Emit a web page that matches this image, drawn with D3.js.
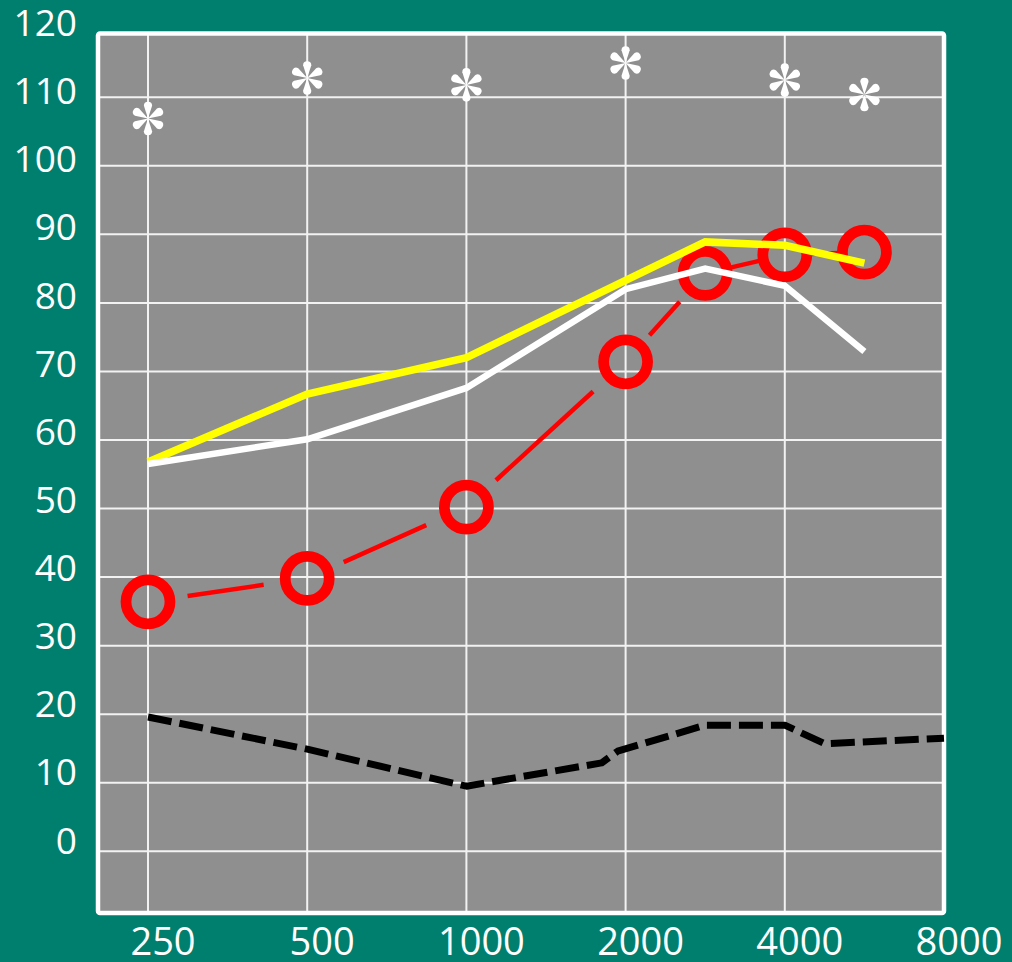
<!DOCTYPE html>
<html>
<head>
<meta charset="utf-8">
<script src="https://cdn.jsdelivr.net/npm/d3@7/dist/d3.min.js"></script>
<style>
  html, body { margin: 0; padding: 0; background: #007f6f; }
  svg { display: block; }
  text { font-family: "Open Sans", "Noto Sans", sans-serif; fill: #ffffff; }
</style>
</head>
<body>
<svg id="chart" width="1012" height="962"></svg>
<script>
// Frequency axis (Hz) and hearing level axis (dB)
const freqTicks = [250, 500, 1000, 2000, 4000, 8000];
const freqLabels = ["250", "500", "1000", "2000", "4000", "8000"];
const dbTicks = [0, 10, 20, 30, 40, 50, 60, 70, 80, 90, 100, 110, 120];

// Measured frequencies shared by the three threshold series
const freqs = [250, 500, 1000, 2000, 3000, 4000, 6000];
const yellowDb = [56.8, 66.7, 72.0, 83.3, 88.9, 88.4, 85.8];
const whiteDb  = [56.5, 60.1, 67.6, 82.0, 85.0, 82.5, 72.9];
const redDb    = [36.4, 39.8, 50.2, 71.4, 84.3, 87.0, 87.4];

// Asterisk markers near the top of the grid
const starFreqs = [250, 500, 1000, 2000, 4000, 6000];
const starDb    = [106.9, 112.8, 111.8, 115.0, 112.5, 110.4];

// Black dashed reference curve
const blackFreqs = [250, 500, 1000, 1850, 1950, 3000, 4000, 5000, 8000];
const blackDb    = [19.6, 14.9, 9.5, 12.9, 14.6, 18.4, 18.4, 15.7, 16.5];

const W = 1012, H = 962;
const plot = { left: 98, right: 944, top: 33.5, bottom: 913 };
const firstTick = 148;          // 250 Hz sits a little inside the frame
const dbMin = -9, dbMax = 119.3;

const svg = d3.select("#chart");

// Octave-spaced axis: linear between neighbouring octave ticks
const octStep = (plot.right - firstTick) / (freqTicks.length - 1);
const x = d3.scaleLinear()
  .domain(freqTicks)
  .range(freqTicks.map((d, i) => firstTick + i * octStep));
const y = d3.scaleLinear().domain([dbMin, dbMax]).range([plot.bottom, plot.top]);
// value labels sit slightly above their gridlines
const yLabel = d3.scaleLinear().domain([0, 120]).range([y(0) - 11, y(120) - 6]);

// background
svg.append("rect").attr("width", W).attr("height", H).attr("fill", "#007f6f");

// plot area fill
svg.append("rect")
  .attr("x", plot.left).attr("y", plot.top + 1.5)
  .attr("width", plot.right - plot.left).attr("height", plot.bottom - plot.top - 1.5)
  .attr("fill", "#8f8f8f");

// gridlines
const grid = svg.append("g").attr("stroke", "#f2f2f2").attr("stroke-width", 2);
grid.selectAll("line.h").data(dbTicks.filter(d => d >= dbMin && d <= dbMax))
  .join("line").attr("class", "h")
  .attr("x1", plot.left).attr("x2", plot.right)
  .attr("y1", d => y(d)).attr("y2", d => y(d));
grid.selectAll("line.v").data(freqTicks)
  .join("line").attr("class", "v")
  .attr("x1", d => x(d)).attr("x2", d => x(d))
  .attr("y1", plot.top).attr("y2", plot.bottom);

// frame
svg.append("rect")
  .attr("x", plot.left).attr("y", plot.top)
  .attr("width", plot.right - plot.left).attr("height", plot.bottom - plot.top)
  .attr("rx", 2).attr("fill", "none")
  .attr("stroke", "#ffffff").attr("stroke-width", 4.5);

// y tick labels
svg.append("g").selectAll("text").data(dbTicks).join("text")
  .attr("x", 77)
  .attr("y", d => yLabel(d))
  .attr("dy", "0.36em")
  .attr("text-anchor", "end")
  .attr("font-size", 37)
  .text(d => d);

// x tick labels
svg.append("g").selectAll("text").data(freqTicks).join("text")
  .attr("x", d => x(d) + 15)
  .attr("y", 955)
  .attr("text-anchor", "middle")
  .attr("font-size", 38)
  .text((d, i) => freqLabels[i]);

const line = d3.line().x(d => x(d[0])).y(d => y(d[1]));
const zip = (fs, vs) => fs.map((f, i) => [f, vs[i]]);

// black dashed curve
svg.append("path")
  .datum(zip(blackFreqs, blackDb))
  .attr("d", line)
  .attr("fill", "none")
  .attr("stroke", "#000000")
  .attr("stroke-width", 7)
  .attr("stroke-dasharray", "24,8")
  .attr("stroke-linejoin", "round");

// red series: one dash between each pair of circles
const redPts = zip(freqs, redDb).map(d => [x(d[0]), y(d[1])]);
const redSegs = d3.pairs(redPts).map(([a, b]) => {
  const dx = b[0] - a[0], dy = b[1] - a[1];
  const len = Math.hypot(dx, dy);
  const t0 = Math.min(40, 0.3 * len) / len;
  const t1 = 1 - Math.min(44, 0.32 * len) / len;
  return [a[0] + dx * t0, a[1] + dy * t0, a[0] + dx * t1, a[1] + dy * t1];
});
svg.append("g").selectAll("line").data(redSegs).join("line")
  .attr("x1", d => d[0]).attr("y1", d => d[1])
  .attr("x2", d => d[2]).attr("y2", d => d[3])
  .attr("stroke", "#ff0000").attr("stroke-width", 4.5);

svg.append("g").selectAll("circle").data(zip(freqs, redDb)).join("circle")
  .attr("cx", d => x(d[0])).attr("cy", d => y(d[1]))
  .attr("r", 22)
  .attr("fill", "none")
  .attr("stroke", "#ff0000")
  .attr("stroke-width", 10.8);

// yellow series
svg.append("path")
  .datum(zip(freqs, yellowDb))
  .attr("d", line)
  .attr("fill", "none")
  .attr("stroke", "#ffff00")
  .attr("stroke-width", 7.5)
  .attr("stroke-linejoin", "miter");

// white series
svg.append("path")
  .datum(zip(freqs, whiteDb))
  .attr("d", line)
  .attr("fill", "none")
  .attr("stroke", "#ffffff")
  .attr("stroke-width", 6.5)
  .attr("stroke-linejoin", "miter");

// asterisk markers: six teardrop petals
const petalLen = 16.8, tipR = 4.1;
const petal = `M0,0 L${-tipR},${-(petalLen - tipR)} A${tipR},${tipR} 0 0 1 ${tipR},${-(petalLen - tipR)} Z`;
const stars = svg.append("g").selectAll("g").data(zip(starFreqs, starDb)).join("g")
  .attr("transform", d => `translate(${x(d[0])},${y(d[1])})`);
stars.selectAll("path").data(d3.range(0, 360, 60)).join("path")
  .attr("d", petal)
  .attr("transform", a => `rotate(${a})`)
  .attr("fill", "#ffffff");
</script>
</body>
</html>
